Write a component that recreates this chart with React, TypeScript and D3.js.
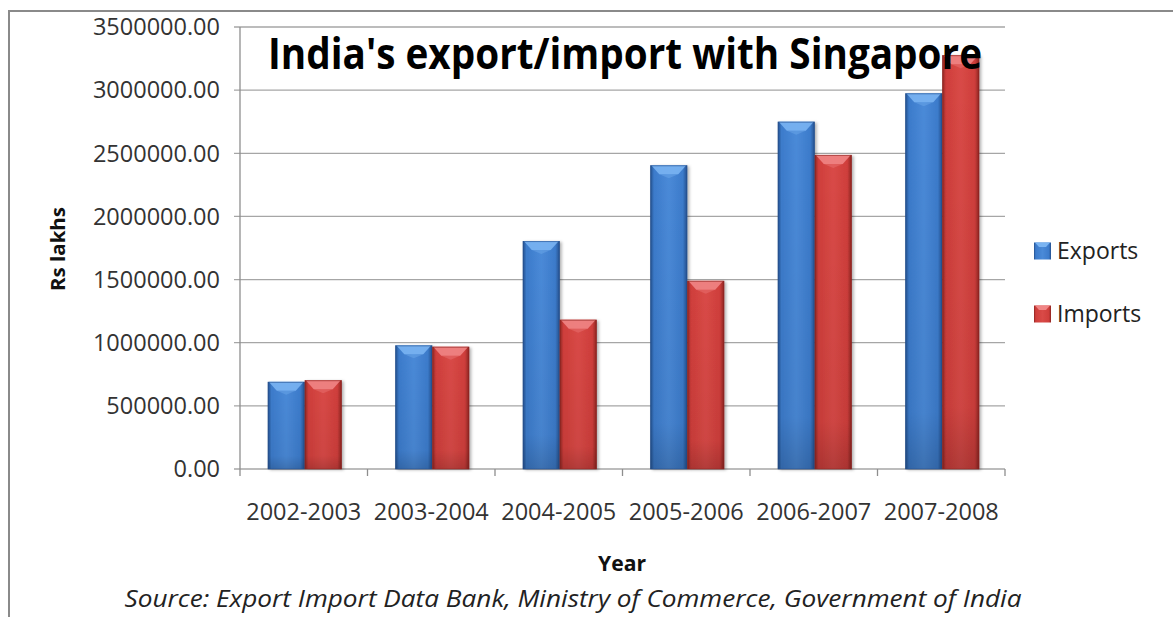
import React from "react";
import * as d3 from "d3";

const categories = ["2002-2003", "2003-2004", "2004-2005", "2005-2006", "2006-2007", "2007-2008"];
const seriesNames = ["Exports", "Imports"];
const exportsValues = [690000, 979000, 1805000, 2405000, 2750000, 2975000];
const importsValues = [703000, 968000, 1182000, 1490000, 2487000, 3277000];
const yTicks = [0, 500000, 1000000, 1500000, 2000000, 2500000, 3000000, 3500000];

const W = 1173;
const H = 617;
const FONT = "'Open Sans', 'DejaVu Sans', sans-serif";

const palette: Record<string, { base: string; dark: string; light: string; top: string }> = {
  Exports: { base: "#3c7bcb", dark: "#244f8c", light: "#4a8ad8", top: "#7ab4f2" },
  Imports: { base: "#cf3e3b", dark: "#8c2421", light: "#d94a47", top: "#f08585" },
};

export default function App() {
  const left = 240, right = 1005, top = 27, bottom = 469;
  const y = d3.scaleLinear().domain([0, 3500000]).range([bottom, top]);
  const x0 = d3.scaleBand<string>().domain(categories).range([left, right]).paddingInner(0).paddingOuter(0);
  const groupW = x0.bandwidth() * 0.58;
  const x1 = d3.scaleBand<string>().domain(seriesNames).range([0, groupW]).padding(0);
  const values: Record<string, number[]> = { Exports: exportsValues, Imports: importsValues };
  const bw = x1.bandwidth();

  const boundaries = categories.map((c) => x0(c) as number).concat([right]);

  return (
    <svg width={W} height={H} style={{ position: "fixed", left: 0, top: 0, background: "#fff" }}
      xmlns="http://www.w3.org/2000/svg">
      <defs>
        {seriesNames.map((s) => (
          <linearGradient key={s} id={`g-${s}`} x1="0" x2="1" y1="0" y2="0">
            <stop offset="0" stopColor={palette[s].dark} />
            <stop offset="0.1" stopColor={palette[s].base} />
            <stop offset="0.5" stopColor={palette[s].light} />
            <stop offset="0.88" stopColor={palette[s].base} />
            <stop offset="1" stopColor={palette[s].dark} />
          </linearGradient>
        ))}
        {seriesNames.map((s) => (
          <linearGradient key={s} id={`v-${s}`} x1="0" x2="0" y1="0" y2="1">
            <stop offset="0" stopColor="#000" stopOpacity={0} />
            <stop offset="0.85" stopColor="#000" stopOpacity={0.05} />
            <stop offset="1" stopColor="#000" stopOpacity={0.18} />
          </linearGradient>
        ))}
        <filter id="shadow" x="-20%" y="-5%" width="150%" height="115%">
          <feDropShadow dx="2" dy="1" stdDeviation="1.5" floodColor="#000" floodOpacity="0.3" />
        </filter>
      </defs>

      {/* border */}
      <line x1={9} x2={9} y1={10} y2={H} stroke="#8a8a8a" strokeWidth={2} />
      <line x1={8} x2={W} y1={11} y2={11} stroke="#8a8a8a" strokeWidth={2} />

      {/* gridlines */}
      {yTicks.map((t) => (
        <line key={t} x1={left - 6} x2={right} y1={y(t)} y2={y(t)} stroke="#a6a6a6" strokeWidth={1.3} />
      ))}
      {/* y axis */}
      <line x1={left} x2={left} y1={top} y2={bottom} stroke="#8e8e8e" strokeWidth={1.3} />
      {/* x axis ticks */}
      {boundaries.map((b, i) => (
        <line key={i} x1={b} x2={b} y1={bottom} y2={bottom + 7} stroke="#8e8e8e" strokeWidth={1.3} />
      ))}

      {/* y tick labels */}
      {yTicks.map((t) => (
        <text key={t} x={220} y={y(t)} dy="0.35em" textAnchor="end" fontFamily={FONT} fontSize={23.5} fill="#333">
          {t.toFixed(2)}
        </text>
      ))}

      {/* bars */}
      {categories.map((c, i) => {
        const gx = (x0(c) as number) + (x0.bandwidth() - groupW) / 2 + 1;
        return (
          <g key={c}>
            {seriesNames.map((s) => {
              const v = values[s][i];
              const bx = gx + (x1(s) as number);
              const by = y(v);
              const bh = bottom - by;
              const bev = 9;
              return (
                <g key={s}>
                  <rect x={bx} y={by} width={bw} height={bh} fill={`url(#g-${s})`} filter="url(#shadow)" />
                  <rect x={bx} y={by} width={bw} height={bh} fill={`url(#v-${s})`} />
                  <polygon
                    points={`${bx + 1},${by} ${bx + bw - 1},${by} ${bx + bw - bev},${by + bev} ${bx + bev},${by + bev}`}
                    fill={palette[s].top}
                    opacity={0.9}
                  />
                  <polygon
                    points={`${bx + bev},${by + bev} ${bx + bw - bev},${by + bev} ${bx + bw / 2},${by + bev + 4}`}
                    fill={palette[s].top}
                    opacity={0.35}
                  />
                  <rect x={bx + 0.5} y={by + 0.5} width={bw - 1} height={bh - 0.5} fill="none" stroke={palette[s].dark} strokeOpacity={0.6} strokeWidth={1} />
                </g>
              );
            })}
          </g>
        );
      })}

      {/* x labels */}
      {categories.map((c) => (
        <text key={c} x={(x0(c) as number) + x0.bandwidth() / 2} y={520} textAnchor="middle" fontFamily={FONT} fontSize={23.5} fill="#333">
          {c}
        </text>
      ))}

      {/* title */}
      <text x={625} y={69} textAnchor="middle" fontFamily={FONT} fontWeight="bold" fontSize={43} fill="#000"
        textLength={714} lengthAdjust="spacingAndGlyphs">
        India's export/import with Singapore
      </text>

      {/* axis titles */}
      <text transform="translate(65,249) rotate(-90)" textAnchor="middle" fontFamily={FONT} fontWeight="bold" fontSize={20} fill="#111"
        textLength={84} lengthAdjust="spacingAndGlyphs">
        Rs lakhs
      </text>
      <text x={622} y={571} textAnchor="middle" fontFamily={FONT} fontWeight="bold" fontSize={21} fill="#111"
        textLength={48} lengthAdjust="spacingAndGlyphs">
        Year
      </text>

      {/* legend */}
      {seriesNames.map((s, i) => {
        const ly = 251 + i * 63;
        return (
          <g key={s}>
            <rect x={1034} y={ly - 8.5} width={17} height={17} fill={`url(#g-${s})`} />
            <polygon points={`${1035},${ly - 8.5} ${1050},${ly - 8.5} ${1046},${ly - 4} ${1039},${ly - 4}`} fill={palette[s].top} />
            <text x={1057} y={ly} dy="0.35em" fontFamily={FONT} fontSize={23} fill="#222">
              {s}
            </text>
          </g>
        );
      })}

      {/* source */}
      <text x={573} y={607} textAnchor="middle" fontFamily={FONT} fontStyle="italic" fontSize={23} fill="#222"
        textLength={897} lengthAdjust="spacingAndGlyphs">
        Source: Export Import Data Bank, Ministry of Commerce, Government of India
      </text>
    </svg>
  );
}
